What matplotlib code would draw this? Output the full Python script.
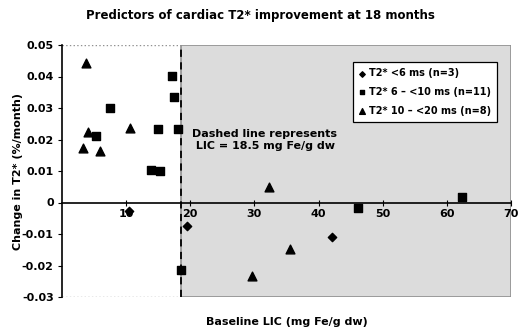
import matplotlib
matplotlib.use("Agg")
import matplotlib.pyplot as plt

# data
dia_x = [10.4, 19.5, 42.1]
dia_y = [-0.0028, -0.0075, -0.0109]
sq_x = [17.1, 17.4, 7.5, 14.9, 18.1, 5.3, 13.9, 15.3, 18.5, 46.2, 62.3]
sq_y = [0.0401, 0.0336, 0.030, 0.0232, 0.0232, 0.021, 0.0103, 0.0099, -0.0213, -0.0017, 0.0017]
tri_x = [3.7, 4.0, 3.3, 6.0, 10.6, 32.3, 35.6, 29.6]
tri_y = [0.0443, 0.0224, 0.0174, 0.0165, 0.0235, 0.005, -0.0149, -0.0232]
labels = ["T2* <6 ms (n=3)", "T2* 6 \u2013 <10 ms (n=11)", "T2* 10 \u2013 <20 ms (n=8)"]
lic_cut = 18.5
xticks = [10, 20, 30, 40, 50, 60, 70]
yticks = [0.05, 0.04, 0.03, 0.02, 0.01, 0, -0.01, -0.02, -0.03]

plt.rcParams['font.family'] = ['DejaVu Sans']
fig = plt.figure(figsize=(5.2, 3.33), dpi=100)
ax = fig.add_axes([62/520, 1-297/333, (511-62)/520, (297-45)/333])
ax.set_xlim(0, 70)
ax.set_ylim(-0.03, 0.05)

# shaded region right of the cut-off
ax.axvspan(lic_cut, 70, facecolor='#dcdcdc', edgecolor='#909090', lw=1.2, zorder=0)
ax.plot([0, lic_cut], [0.05, 0.05], color='#909090', ls=':', lw=1, zorder=1)
ax.plot([0, lic_cut], [-0.03, -0.03], color='#909090', ls=':', lw=1, zorder=1)
ax.axvline(lic_cut, color='black', ls='--', lw=1.3, dashes=(4, 3), zorder=2)

ax.scatter(dia_x, dia_y, marker='D', s=18, color='black', zorder=4, label=labels[0])
ax.scatter(sq_x, sq_y, marker='s', s=28, color='black', zorder=4, label=labels[1])
ax.scatter(tri_x, tri_y, marker='^', s=40, color='black', zorder=4, label=labels[2])

ax.spines['top'].set_visible(False)
ax.spines['right'].set_visible(False)
ax.spines['bottom'].set_position(('data', 0))
ax.spines['bottom'].set_linewidth(1.2)
ax.spines['left'].set_linewidth(1.2)
ax.patch.set_visible(False)

ax.set_xticks(xticks)
ax.set_xticklabels([str(t) for t in xticks], fontweight='bold', fontsize=8)
ax.set_yticks(yticks)
ax.set_yticklabels(["%g" % t if t != 0 else "0" for t in yticks], fontweight='bold', fontsize=8)
ax.tick_params(axis='x', direction='inout', length=5, pad=2)
ax.tick_params(axis='y', direction='out', length=3, pad=3)

ax.text(20.2, 0.0232, "Dashed line represents\n LIC = 18.5 mg Fe/g dw", fontsize=8,
        fontweight='bold', va='top', ha='left', linespacing=1.15)

leg = ax.legend(loc='upper right', bbox_to_anchor=(0.98, 0.95), fontsize=7,
                frameon=True, fancybox=False, edgecolor='black', framealpha=1,
                handletextpad=0.3, handlelength=0.8, borderpad=0.6, labelspacing=0.9,
                markerscale=0.65)
leg.get_frame().set_linewidth(0.9)
for t in leg.get_texts():
    t.set_fontweight('bold')

fig.text(0.5, 1-15/333, "Predictors of cardiac T2* improvement at 18 months",
         ha='center', va='center', fontweight='bold', fontsize=8.5)
fig.text(287/520, 1-322/333, "Baseline LIC (mg Fe/g dw)", ha='center', va='center',
         fontweight='bold', fontsize=8)
fig.text(18/520, 1-171/333, "Change in T2* (%/month)", ha='center', va='center',
         rotation=90, fontweight='bold', fontsize=8)

fig.savefig("out.png", dpi=100)
